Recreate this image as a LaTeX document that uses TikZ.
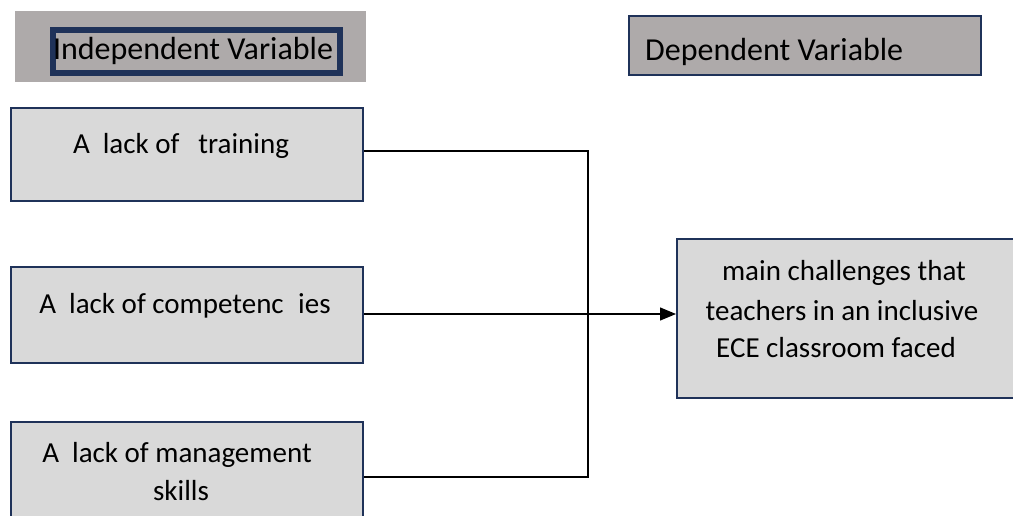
\documentclass[tikz,border=0pt]{standalone}
\usepackage{fontspec}
\setmainfont{Carlito}
\usetikzlibrary{arrows.meta}
\definecolor{hdrgrey}{RGB}{174,170,170}
\definecolor{boxgrey}{RGB}{217,217,217}
\definecolor{navy}{RGB}{31,50,89}
\tikzset{
  hdrtxt/.style={font=\fontsize{32}{38}\selectfont, inner sep=0pt, anchor=base},
  txt/.style={font=\fontsize{29}{36}\selectfont, inner sep=0pt, anchor=base},
  varbox/.style={draw=navy, line width=2pt, fill=boxgrey, inner sep=0pt, anchor=north west},
  hdrbox/.style={fill=hdrgrey, inner sep=0pt, anchor=north west},
  conn/.style={line width=1.3pt, black},
}
\begin{document}
\begin{tikzpicture}[x=1pt,y=-1pt]
\useasboundingbox (0,0) rectangle (1013,515);
\clip (0,0) rectangle (1013,515);
% headers
\node[hdrbox, minimum width=351pt, minimum height=71pt] (ivh) at (15,11) {};
\node[draw=navy, line width=5.5pt, inner sep=0pt, anchor=north west, minimum width=287pt, minimum height=43pt] (ivframe) at (50,27) {};
\node[hdrtxt] (ivt) at (193,59) {Independent Variable};
\node[hdrbox, draw=navy, line width=2pt, minimum width=352pt, minimum height=59pt] (dvh) at (628,15) {};
\node[hdrtxt, anchor=base west] (dvt) at (645,60) {Dependent Variable};
% independent boxes
\node[varbox, minimum width=352pt, minimum height=93pt] (b1) at (10,107) {};
\node[txt] (t1) at (181,153) {A\hspace{0.45em}lack of\hspace{0.65em}training};
\node[varbox, minimum width=352pt, minimum height=96pt] (b2) at (10,266) {};
\node[txt] (t2) at (185,313) {A\hspace{0.45em}lack of competenc\hspace{0.5em}ies};
\node[varbox, minimum width=352pt, minimum height=120pt] (b3) at (10,421) {};
\node[txt] (t3a) at (177,462) {A\hspace{0.45em}lack of management};
\node[txt] (t3b) at (181,500) {skills};
% dependent box
\node[varbox, minimum width=360pt, minimum height=159pt] (dep) at (676,238) {};
\node[txt] (d1) at (844,280) {main challenges that};
\node[txt] (d2) at (842,320) {teachers in an inclusive};
\node[txt] (d3) at (836,357) {ECE classroom faced};
% connectors
\coordinate (jt) at (588,151);
\coordinate (jb) at (588,477);
\draw[conn] (b1.east |- jt) -- (jt) -- (jb) -- (b3.east |- jb);
\draw[conn, -{Triangle[length=16pt, width=13pt]}] (b2.east |- 0,314) -- (dep.west |- 0,314);
\end{tikzpicture}
\end{document}
